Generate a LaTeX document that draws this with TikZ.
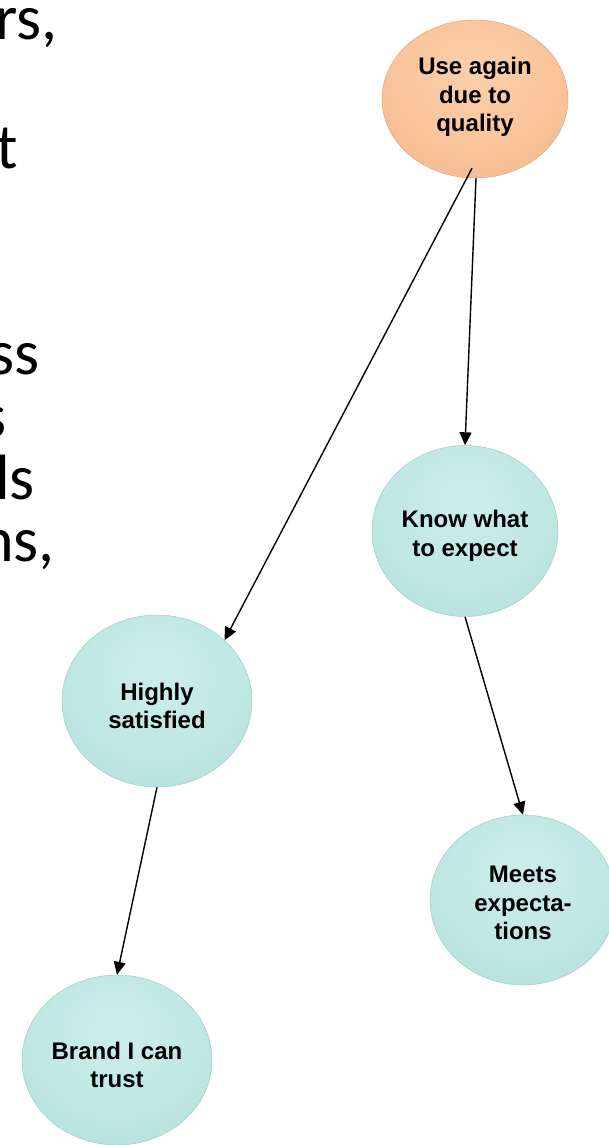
\documentclass[tikz,border=0pt]{standalone}
\usepackage{fontspec}
\setmainfont{Liberation Sans}
\newfontfamily\slidefont{Carlito}
\usetikzlibrary{shapes.geometric,arrows.meta}

\definecolor{tealA}{HTML}{CDEEEB}
\definecolor{tealM}{HTML}{BFE7E4}
\definecolor{tealB}{HTML}{AEDCD9}
\definecolor{tealRim}{HTML}{9CC6C4}
\definecolor{peachA}{HTML}{FBD0AC}
\definecolor{peachM}{HTML}{F9C49B}
\definecolor{peachB}{HTML}{F2B084}
\definecolor{peachRim}{HTML}{D8A07C}

% soft sphere shadings, lit from above
\pgfdeclareradialshading{tealball}{\pgfpoint{0bp}{10bp}}{%
  color(0bp)=(tealA); color(22bp)=(tealM); color(44bp)=(tealB); color(60bp)=(tealB!85!black)}
\pgfdeclareradialshading{peachball}{\pgfpoint{0bp}{10bp}}{%
  color(0bp)=(peachA); color(22bp)=(peachM); color(44bp)=(peachB); color(60bp)=(peachB!88!black)}

\tikzset{
  ball/.style={ellipse, inner sep=0pt, minimum width=186pt, minimum height=170pt,
    draw=tealRim, line width=0.4pt, shade, shading=tealball},
  peachnode/.style={ball, draw=peachRim, shading=peachball},
  caption/.style={align=center, inner sep=0pt,
    font=\bfseries\fontsize{24}{28.5}\selectfont},
  link/.style={-{Triangle[length=13pt,width=12pt]}, line width=1.4pt, black},
  frag/.style={anchor=base east, inner sep=0pt, font=\slidefont\fontsize{64}{62}\selectfont}
}

\begin{document}
\begin{tikzpicture}[x=1pt, y=-1pt]
\useasboundingbox (0,0) rectangle (609,1145);
\clip (0,0) rectangle (609,1145);

% line ends of the slide text on the left
\node[frag] (f1) at (58,40)  {ors,};
\node[frag] (f2) at (18,168) {t};
\node[frag] (f3) at (40,374) {ss};
\node[frag] (f4) at (7,437)  {s};
\node[frag] (f5) at (35,499) {ls};
\node[frag] (f6) at (55,561) {ns,};

% the ladder of reasons
\node[peachnode, minimum height=158pt] (use) at (475,99) {};
\node[ball, minimum height=171pt] (know) at (465,531) {};
\node[ball, minimum width=190pt, minimum height=172pt] (high) at (157,701) {};
\node[ball, minimum width=190pt] (brand) at (117,1060) {};
\node[ball] (meets) at (523,900) {};

\node[caption] (use-t)   at (475,97)   {Use again\\due to\\quality};
\node[caption] (know-t)  at (465,536)  {Know what\\to expect};
\node[caption] (high-t)  at (157,706)  {Highly\\satisfied};
\node[caption] (brand-t) at (117,1065) {Brand I can\\trust};
\node[caption] (meets-t) at (523,903)  {Meets\\expecta-\\tions};

\draw[link] ([xshift=-3pt,yshift=10pt]use.south) -- (high.42);
\draw[link] ([xshift=1pt]use.south) -- (know.north);
\draw[link] (know.south) -- (meets.north);
\draw[link] (high.south) -- (brand.north);
\end{tikzpicture}
\end{document}
